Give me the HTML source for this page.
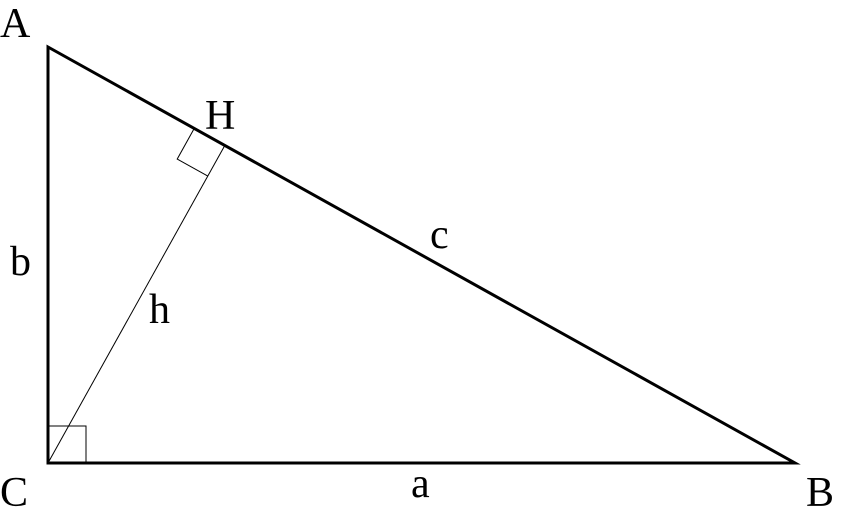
<!DOCTYPE html>
<html><head><meta charset="utf-8"><style>
html,body{margin:0;padding:0;background:#fff;}
svg{display:block}
text{font-family:"Liberation Serif",serif;font-size:42px;fill:#000}
</style></head><body>
<svg width="844" height="512" viewBox="0 0 844 512" xmlns="http://www.w3.org/2000/svg">
<rect width="844" height="512" fill="#fff"/>
<line x1="48" y1="463" x2="224.8" y2="145.5" stroke="#000" stroke-width="1"/>
<polyline points="48,426 86,426 86,463" fill="none" stroke="#000" stroke-width="1"/>
<polyline points="194.2,128.5 177.2,159.1 207.8,176.1" fill="none" stroke="#000" stroke-width="1"/>
<polygon points="48,47 48,463 795,463" fill="none" stroke="#000" stroke-width="3" stroke-linejoin="miter"/>
<text x="0" y="37">A</text>
<text x="205" y="129">H</text>
<text x="430" y="248">c</text>
<text x="10" y="275">b</text>
<text x="149" y="323">h</text>
<text x="0" y="506">C</text>
<text x="411" y="497">a</text>
<text x="806" y="506">B</text>
</svg>
</body></html>
